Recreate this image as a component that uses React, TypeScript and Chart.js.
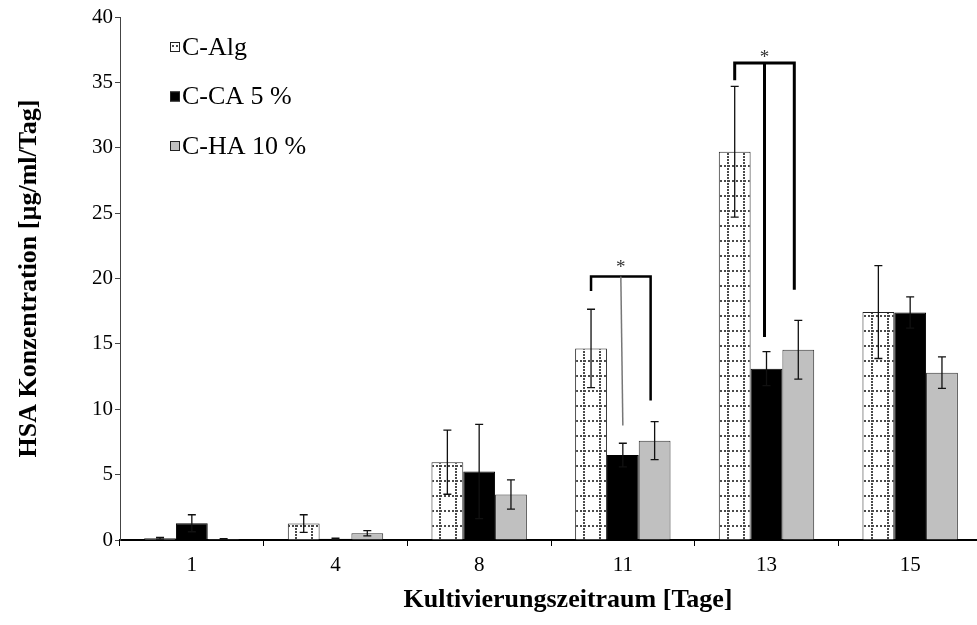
import React, { useEffect, useRef } from "react";
import { Chart, registerables } from "chart.js";
Chart.register(...registerables);

const categories = ["1", "4", "8", "11", "13", "15"];
const seriesLabels = ["C-Alg", "C-CA 5 %", "C-HA 10 %"];
const algValues = [0.13, 1.26, 5.95, 14.65, 29.7, 17.43];
const algErrors = [0.07, 0.67, 2.45, 3.0, 5.0, 3.55];
const caValues = [1.28, 0.1, 5.24, 6.5, 13.1, 17.4];
const caErrors = [0.65, 0.05, 3.6, 0.9, 1.3, 1.2];
const haValues = [0.08, 0.52, 3.48, 7.6, 14.55, 12.8];
const haErrors = [0.02, 0.2, 1.12, 1.45, 2.25, 1.2];
const yMin = 0;
const yMax = 40;
const yStep = 5;
const xTitle = "Kultivierungszeitraum [Tage]";
const yTitle = "HSA Konzentration [µg/ml/Tag]";

// significance brackets (values in data units)
const bracketCategories = [3, 4];
const bracketTops = [20.16, 36.48];
const bracketLeftEnds = [19.04, 35.16];
const bracketMidEnds = [8.76, 15.52];
const bracketRightEnds = [10.67, 19.14];
const bracketStarValues = [21.1, 37.2];
const bracketLabels = ["*", "*"];

const FONT = "'Liberation Serif', 'Times New Roman', serif";

function makePattern(): CanvasPattern | string {
  const tile = document.createElement("canvas");
  tile.width = 16;
  tile.height = 15;
  const c = tile.getContext("2d");
  if (!c) return "#fff";
  c.fillStyle = "#ffffff";
  c.fillRect(0, 0, 16, 15);
  c.fillStyle = "#4a4a4a";
  for (let x = 0; x < 16; x += 4) c.fillRect(x, 0, 2, 2);
  for (let y = 0; y < 15; y += 3) c.fillRect(7, y, 2, 2);
  return c.createPattern(tile, "repeat") || "#fff";
}

export default function App() {
  const ref = useRef<HTMLCanvasElement | null>(null);

  useEffect(() => {
    if (!ref.current) return;
    const pattern = makePattern();
    const errors = [algErrors, caErrors, haErrors];

    const errorBars = {
      id: "errorBars",
      afterDatasetsDraw(chart: any) {
        const ctx = chart.ctx;
        const ys = chart.scales.y;
        ctx.save();
        ctx.strokeStyle = "#111";
        ctx.lineWidth = 1.3;
        chart.data.datasets.forEach((ds: any, i: number) => {
          const meta = chart.getDatasetMeta(i);
          meta.data.forEach((el: any, j: number) => {
            const v = ds.data[j];
            const e = errors[i][j];
            const x = el.x;
            const t = ys.getPixelForValue(v + e);
            const b = ys.getPixelForValue(Math.max(0, v - e));
            ctx.beginPath();
            ctx.moveTo(x, t);
            ctx.lineTo(x, b);
            ctx.moveTo(x - 4, t);
            ctx.lineTo(x + 4, t);
            ctx.moveTo(x - 4, b);
            ctx.lineTo(x + 4, b);
            ctx.stroke();
          });
        });
        ctx.restore();
      },
    };

    const brackets = {
      id: "brackets",
      afterDatasetsDraw(chart: any) {
        const ctx = chart.ctx;
        const ys = chart.scales.y;
        const m0 = chart.getDatasetMeta(0).data;
        const m1 = chart.getDatasetMeta(1).data;
        const m2 = chart.getDatasetMeta(2).data;
        ctx.save();
        bracketCategories.forEach((ci, k) => {
          const lx = m0[ci].x;
          const rx = m2[ci].x - 4;
          const mx = (lx + rx) / 2;
          const cx = m1[ci].x;
          const top = ys.getPixelForValue(bracketTops[k]);
          ctx.strokeStyle = "#000";
          ctx.lineWidth = k === 0 ? 2.5 : 3;
          ctx.lineCap = "butt";
          ctx.beginPath();
          ctx.moveTo(lx, ys.getPixelForValue(bracketLeftEnds[k]));
          ctx.lineTo(lx, top);
          ctx.lineTo(rx, top);
          ctx.lineTo(rx, ys.getPixelForValue(bracketRightEnds[k]));
          ctx.stroke();
          ctx.beginPath();
          if (k === 0) {
            ctx.strokeStyle = "#777";
            ctx.lineWidth = 1.5;
          }
          ctx.moveTo(mx, top);
          ctx.lineTo(k === 0 ? cx : mx, ys.getPixelForValue(bracketMidEnds[k]));
          ctx.stroke();
          ctx.fillStyle = "#333";
          ctx.font = `19px ${FONT}`;
          ctx.textAlign = "center";
          ctx.textBaseline = "middle";
          ctx.fillText(bracketLabels[k], mx, ys.getPixelForValue(bracketStarValues[k]) + 4);
        });
        ctx.restore();
      },
    };

    const legend = {
      id: "customLegend",
      afterDraw(chart: any) {
        const ctx = chart.ctx;
        ctx.save();
        chart.data.datasets.forEach((ds: any, i: number) => {
          const y = 47 + i * 49.5;
          ctx.fillStyle = ds.backgroundColor;
          ctx.fillRect(170, y - 5, 10, 10);
          ctx.strokeStyle = "#222";
          ctx.lineWidth = 1;
          ctx.strokeRect(170.5, y - 4.5, 9, 9);
          ctx.fillStyle = "#000";
          ctx.font = `26px ${FONT}`;
          ctx.textAlign = "left";
          ctx.textBaseline = "middle";
          ctx.fillText(ds.label, 182, y + 1);
        });
        // x axis title
        const xs = chart.scales.x;
        ctx.font = `bold 26px ${FONT}`;
        ctx.textAlign = "center";
        ctx.textBaseline = "middle";
        ctx.fillText(xTitle, (xs.left + xs.right) / 2 + 17, 600);
        ctx.restore();
      },
    };

    const chart = new Chart(ref.current, {
      type: "bar",
      data: {
        labels: categories,
        datasets: [
          { label: seriesLabels[0], data: algValues, backgroundColor: pattern as any, borderColor: "#222", borderWidth: 1 },
          { label: seriesLabels[1], data: caValues, backgroundColor: "#000000", borderColor: "#000", borderWidth: 1 },
          { label: seriesLabels[2], data: haValues, backgroundColor: "#c0c0c0", borderColor: "#333", borderWidth: 1 },
        ],
      },
      options: {
        animation: false,
        responsive: false,
        devicePixelRatio: 1,
        layout: { padding: { top: 17, right: 3, left: 0, bottom: 0 } },
        datasets: { bar: { categoryPercentage: 0.664, barPercentage: 1 } },
        plugins: { legend: { display: false }, tooltip: { enabled: false } },
        scales: {
          x: {
            grid: { display: true, drawOnChartArea: false, drawTicks: true, tickLength: 6, color: "#000", offset: true },
            border: { display: true, color: "#000", width: 2 },
            ticks: { color: "#000", font: { family: FONT, size: 21 }, padding: 7 },
            title: { display: false },
            afterFit(s: any) { s.height = 85; },
          },
          y: {
            min: yMin,
            max: yMax,
            grid: { display: true, drawOnChartArea: false, drawTicks: true, tickLength: 5, color: "#444" },
            border: { display: true, color: "#444", width: 1 },
            ticks: { stepSize: yStep, color: "#000", font: { family: FONT, size: 21 }, padding: 2 },
            title: {
              display: true,
              text: yTitle,
              color: "#000",
              font: { family: FONT, size: 26, weight: "bold" },
              padding: { top: 14, bottom: 0 },
            },
            afterFit(s: any) { s.width = 120; },
          },
        },
      },
      plugins: [errorBars, brackets, legend],
    });
    return () => chart.destroy();
  }, []);

  return (
    <div style={{ position: "fixed", left: 0, top: 0, width: 977, height: 625, overflow: "hidden", background: "#fff" }}>
      <canvas ref={ref} width={985} height={625} style={{ display: "block", width: 985, height: 625 }} />
    </div>
  );
}
